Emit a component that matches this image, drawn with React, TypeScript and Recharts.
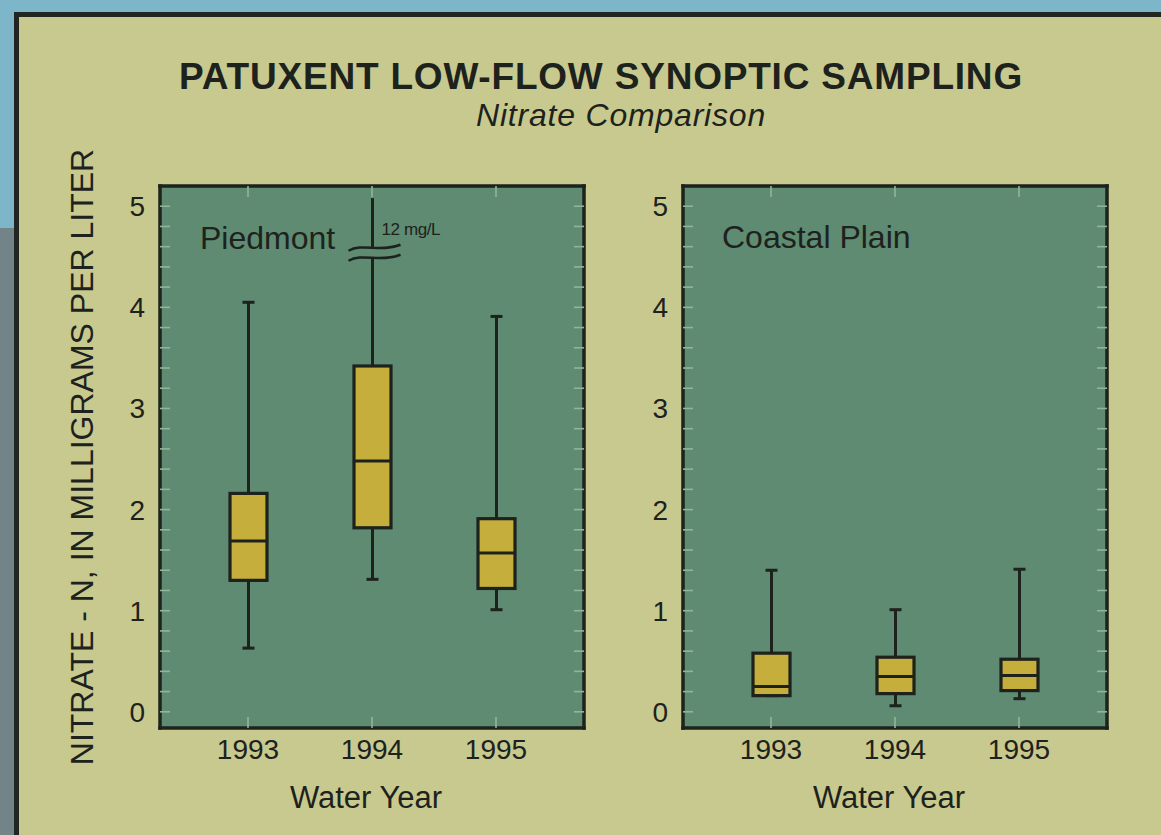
import React from 'react';
import { ComposedChart, Bar, XAxis, YAxis, CartesianGrid, Label } from 'recharts';

// water years on the x axis
const years = ['1993', '1994', '1995'];

// Piedmont box plots (mg/L)
const piedmontMin = [0.63, 1.31, 1.01];
const piedmontQ1 = [1.3, 1.82, 1.22];
const piedmontMedian = [1.69, 2.48, 1.57];
const piedmontQ3 = [2.16, 3.42, 1.91];
const piedmontMax = [4.05, 5.08, 3.91]; // 1994 whisker actually runs to 12 mg/L
const piedmontBreakAt = [null, 4.54, null];
const piedmontBreakLabel = ['', '12 mg/L', ''];

// Coastal Plain box plots (mg/L)
const coastalMin = [0.16, 0.06, 0.13];
const coastalQ1 = [0.16, 0.18, 0.21];
const coastalMedian = [0.25, 0.35, 0.36];
const coastalQ3 = [0.58, 0.54, 0.52];
const coastalMax = [1.4, 1.01, 1.41];

const yTicks = [0, 1, 2, 3, 4, 5];
const yMinorTicks = [
  0, 0.2, 0.4, 0.6, 0.8, 1, 1.2, 1.4, 1.6, 1.8, 2, 2.2, 2.4, 2.6, 2.8, 3, 3.2, 3.4, 3.6, 3.8, 4, 4.2, 4.4, 4.6,
  4.8, 5,
];
const yDomain = [-0.16, 5.2];

const INK = '#1d221d';
const PLOT = '#5e8b71';
const BOX = '#c6ae3d';
const MINOR = '#93b597';
const PAPER = '#c8c98e';
const SKY = '#7db6c8';
const FONT = '"Liberation Sans", Arial, Helvetica, sans-serif';

const makeRows = (
  mins: number[],
  q1s: number[],
  meds: number[],
  q3s: number[],
  maxs: number[],
  breaks: (number | null)[] = [],
  breakLabels: string[] = []
) =>
  years.map((year, i) => ({
    year,
    range: [mins[i], maxs[i]],
    min: mins[i],
    q1: q1s[i],
    median: meds[i],
    q3: q3s[i],
    max: maxs[i],
    breakAt: breaks[i] ?? null,
    breakLabel: breakLabels[i] ?? '',
  }));

const piedmontRows = makeRows(
  piedmontMin,
  piedmontQ1,
  piedmontMedian,
  piedmontQ3,
  piedmontMax,
  piedmontBreakAt,
  piedmontBreakLabel
);
const coastalRows = makeRows(coastalMin, coastalQ1, coastalMedian, coastalQ3, coastalMax);

const BoxShape = (props: any) => {
  const { x, y, width, height, payload } = props;
  if (!payload) return null;
  const top = Math.min(y, y + height);
  const bottom = Math.max(y, y + height);
  const span = payload.max - payload.min;
  const py = (v: number) => bottom - ((v - payload.min) / span) * (bottom - top);
  const cx = x + width / 2;
  const cap = 6;
  const yMax = py(payload.max);
  const yQ3 = py(payload.q3);
  const yMed = py(payload.median);
  const yQ1 = py(payload.q1);
  const yMin = py(payload.min);

  let brk = null;
  if (payload.breakAt != null) {
    const by = py(payload.breakAt);
    const upper = `M ${cx - 24} ${by - 2} C ${cx - 10} ${by - 10}, ${cx + 8} ${by}, ${cx + 28} ${by - 8}`;
    const gap = `${upper} L ${cx + 28} ${by + 2} C ${cx + 8} ${by + 10}, ${cx - 10} ${by}, ${cx - 24} ${by + 8} Z`;
    const lower = `M ${cx - 24} ${by + 8} C ${cx - 10} ${by}, ${cx + 8} ${by + 10}, ${cx + 28} ${by + 2}`;
    brk = (
      <g>
        <path d={gap} fill={PLOT} stroke="none" />
        <path d={upper} fill="none" stroke={INK} strokeWidth={2.5} />
        <path d={lower} fill="none" stroke={INK} strokeWidth={2.5} />
        <text x={cx + 9} y={by - 18} fontSize={17} fill={INK} fontFamily={FONT} letterSpacing={-0.4}>
          {payload.breakLabel}
        </text>
      </g>
    );
  }

  return (
    <g>
      <line x1={cx} x2={cx} y1={yMax} y2={yQ3} stroke={INK} strokeWidth={3} />
      <line x1={cx} x2={cx} y1={yQ1} y2={yMin} stroke={INK} strokeWidth={3} />
      {payload.breakAt == null && (
        <line x1={cx - cap} x2={cx + cap} y1={yMax} y2={yMax} stroke={INK} strokeWidth={3} />
      )}
      <line x1={cx - cap} x2={cx + cap} y1={yMin} y2={yMin} stroke={INK} strokeWidth={3} />
      <rect x={x} y={yQ3} width={width} height={yQ1 - yQ3} fill={BOX} stroke={INK} strokeWidth={3.2} />
      <line x1={x} x2={x + width} y1={yMed} y2={yMed} stroke={INK} strokeWidth={3} />
      {brk}
    </g>
  );
};

// minor axes: draw only the inward tick marks, no labels
const noLabel = () => <g />;

const frameLine = { stroke: INK, strokeWidth: 3.5, strokeLinecap: 'square' as const };
const minorLine = { stroke: MINOR, strokeWidth: 1.6 };
const xPad = { left: 26, right: 26 };
const tickText = { fill: INK, fontSize: 28, fontFamily: FONT };

const Panel = ({ rows, left, yLabel }: { rows: any[]; left: number; yLabel?: string }) => (
  <div style={{ position: 'absolute', left, top: 0 }}>
    <ComposedChart width={600} height={835} data={rows} margin={{ top: 186, right: 16, bottom: 17, left: 4 }}>
      <CartesianGrid xAxisId="b" yAxisId="v" horizontal={false} vertical={false} fill={PLOT} fillOpacity={1} />
      <XAxis
        xAxisId="b"
        dataKey="year"
        orientation="bottom"
        height={90}
        padding={xPad}
        axisLine={frameLine}
        tickLine={false}
        tickSize={0}
        tickMargin={11}
        tick={tickText}
        interval={0}
      >
        <Label value="Water Year" position="insideBottom" offset={10} dx={-6} fill={INK} fontSize={31} fontFamily={FONT} />
      </XAxis>
      <XAxis
        xAxisId="bm"
        dataKey="year"
        orientation="bottom"
        mirror
        padding={xPad}
        axisLine={false}
        tick={noLabel}
        tickLine={minorLine}
        tickSize={11}
        interval={0}
      />
      <XAxis
        xAxisId="t"
        dataKey="year"
        orientation="top"
        mirror
        padding={xPad}
        axisLine={frameLine}
        tick={noLabel}
        tickLine={minorLine}
        tickSize={11}
        interval={0}
      />
      <YAxis
        yAxisId="v"
        type="number"
        domain={yDomain}
        allowDataOverflow
        ticks={yTicks}
        interval={0}
        width={156}
        axisLine={frameLine}
        tickLine={false}
        tickSize={0}
        tickMargin={15}
        tick={tickText}
      >
        {yLabel && (
          <Label value={yLabel} position="center" angle={-90} fill={INK} fontSize={32} fontFamily={FONT} />
        )}
      </YAxis>
      <YAxis
        yAxisId="vm"
        type="number"
        orientation="left"
        mirror
        domain={yDomain}
        allowDataOverflow
        ticks={yMinorTicks}
        interval={0}
        axisLine={false}
        tick={noLabel}
        tickLine={minorLine}
        tickSize={10}
      />
      <YAxis
        yAxisId="r"
        type="number"
        orientation="right"
        mirror
        domain={yDomain}
        allowDataOverflow
        ticks={yMinorTicks}
        interval={0}
        axisLine={frameLine}
        tick={noLabel}
        tickLine={minorLine}
        tickSize={10}
      />
      <Bar xAxisId="b" yAxisId="v" dataKey="range" barSize={37} shape={BoxShape} isAnimationActive={false} />
    </ComposedChart>
  </div>
);

export default function App() {
  return (
    <div style={{ position: 'absolute', left: 0, top: 0, width: 1161, height: 835, overflow: 'hidden', fontFamily: FONT }}>
      <svg width={1161} height={835} style={{ position: 'absolute', left: 0, top: 0 }}>
        <rect x={0} y={0} width={1161} height={835} fill={SKY} />
        <rect x={0} y={228} width={14} height={607} fill="#738489" />
        <rect x={14} y={12} width={1147} height={823} fill="#222622" />
        <rect x={19} y={17} width={1142} height={818} fill={PAPER} />
      </svg>
      <Panel rows={piedmontRows} left={0} yLabel="NITRATE - N, IN MILLIGRAMS PER LITER" />
      <Panel rows={coastalRows} left={523} />
      <svg width={1161} height={835} style={{ position: 'absolute', left: 0, top: 0, pointerEvents: 'none' }}>
        <text x={601} y={89} textAnchor="middle" fontSize={37} fontWeight="bold" letterSpacing={0.8} fill={INK} fontFamily={FONT}>
          PATUXENT LOW-FLOW SYNOPTIC SAMPLING
        </text>
        <text x={621} y={126} textAnchor="middle" fontSize={32} fontStyle="italic" letterSpacing={0.8} fill={INK} fontFamily={FONT}>
          Nitrate Comparison
        </text>
        <text x={200} y={249} fontSize={32} fill={INK} fontFamily={FONT}>
          Piedmont
        </text>
        <text x={722} y={248} fontSize={32} fill={INK} fontFamily={FONT}>
          Coastal Plain
        </text>
      </svg>
    </div>
  );
}
